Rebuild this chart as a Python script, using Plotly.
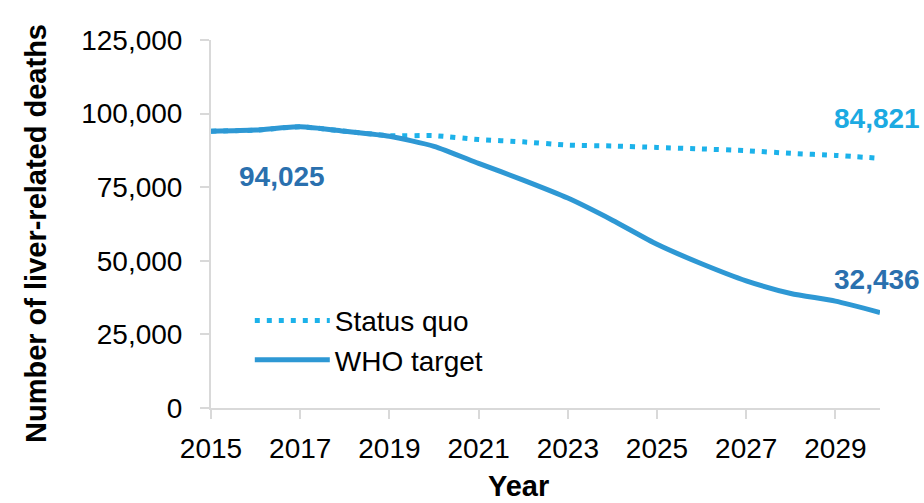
import plotly.graph_objects as go

years = list(range(2015, 2031))
status_quo = [94025, 94400, 95500, 94000, 92500, 92500, 91200, 90400, 89300,
              89000, 88500, 88000, 87400, 86500, 85800, 84821]
who_target = [94025, 94400, 95500, 94000, 92300, 88900, 83100, 77400, 71300,
              63800, 55600, 49000, 43200, 38900, 36300, 32436]

x_ticks = [2015, 2017, 2019, 2021, 2023, 2025, 2027, 2029]
y_ticks = [0, 25000, 50000, 75000, 100000, 125000]

fig = go.Figure()
fig.add_trace(go.Scatter(
    x=years, y=status_quo, name="Status quo", mode="lines",
    line=dict(color="#1CB2EA", width=5, dash="5px,7px", shape="spline", smoothing=0.6)))
fig.add_trace(go.Scatter(
    x=years, y=who_target, name="WHO target", mode="lines",
    line=dict(color="#2E98D4", width=5, shape="spline", smoothing=0.6)))

font = "Liberation Sans, Arial, sans-serif"
fig.add_annotation(x=2016.6, y=who_target[0], text="<b>94,025</b>", showarrow=False,
                   xref="x", yref="y", yshift=-45,
                   font=dict(size=28, color="#2A70AE", family=font))
fig.add_annotation(x=2030, y=status_quo[-1], text="<b>84,821</b>", showarrow=False,
                   xref="x", yref="y", yshift=40, xshift=-3,
                   font=dict(size=28, color="#1CAAE2", family=font))
fig.add_annotation(x=2030, y=who_target[-1], text="<b>32,436</b>", showarrow=False,
                   xref="x", yref="y", yshift=33, xshift=-3,
                   font=dict(size=28, color="#2A70AE", family=font))

# axis titles
fig.add_annotation(x=-0.2616, y=0.4755, xref="paper", yref="paper",
                   text="<b>Number of liver-related deaths</b>", textangle=-90,
                   showarrow=False, xanchor="center", yanchor="middle",
                   font=dict(size=29, color="black", family=font))
fig.add_annotation(x=0.459, y=-0.213, xref="paper", yref="paper",
                   text="<b>Year</b>", showarrow=False,
                   xanchor="center", yanchor="middle",
                   font=dict(size=29, color="black", family=font))

fig.update_layout(
    width=924, height=503,
    margin=dict(l=211, r=44, t=40, b=95),
    paper_bgcolor="white", plot_bgcolor="white",
    font=dict(family=font, size=28, color="black"),
    showlegend=True,
    legend=dict(x=0.058, y=0.305, xanchor="left", yanchor="top",
                bgcolor="rgba(0,0,0,0)", itemwidth=75,
                font=dict(size=28, family=font), tracegroupgap=0),
    xaxis=dict(range=[2015, 2030], tickvals=x_ticks, showgrid=False,
               showline=True, linecolor="#D9D9D9", linewidth=2,
               ticks="outside", ticklen=9, tickcolor="#D9D9D9", tickwidth=2,
               ticklabelstandoff=5,
               tickfont=dict(size=28, family=font, color="black"),
               zeroline=False),
    yaxis=dict(range=[0, 125000], tickvals=y_ticks, tickformat=",", showgrid=False,
               showline=True, linecolor="#D9D9D9", linewidth=2,
               ticks="outside", ticklen=9, tickcolor="#D9D9D9", tickwidth=2,
               ticklabelstandoff=12,
               tickfont=dict(size=28, family=font, color="black"),
               zeroline=False),
)

fig.write_html("out.html")
